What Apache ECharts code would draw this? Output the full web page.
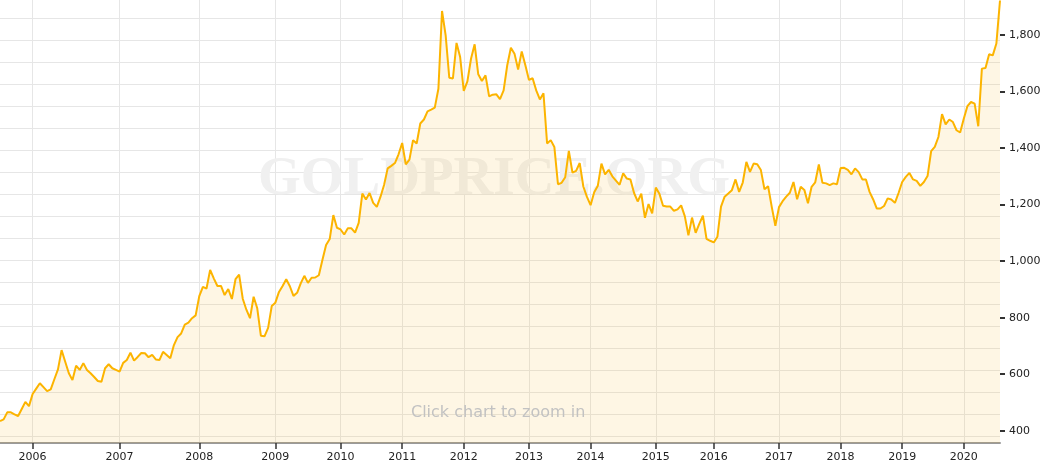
<!DOCTYPE html>
<html>
<head>
<meta charset="utf-8">
<script src="https://cdn.jsdelivr.net/npm/echarts@6/dist/echarts.min.js"></script>
<style>
html,body{margin:0;padding:0;background:#fff;}
#chart{width:1064px;height:472px;}
</style>
</head>
<body>
<div id="chart"></div>
<script>
const prices2005_2007 = [434,440,465,465,458,452,477,502,487,530,549,568,554,540,546,582,617,685,644,603,579,630,615,639,615,603,590,576,573,621,635,621,615,609,640,650,676,648,661,675,674,660,668,652,650,679,668,656,703,731,744,775,782,798,808];
const prices2008_2009 = [876,909,903,969,939,912,912,880,901,866,936,952,867,828,798,874,833,736,734,764,841,853,891,912,936,911,877,888,921,948,923,941,942,950,1005,1057,1078,1163,1118];
const prices2010_2011 = [1112,1094,1116,1116,1101,1135,1239,1218,1241,1206,1192,1227,1269,1328,1337,1347,1378,1418,1342,1359,1428,1416,1487,1501,1530,1536,1543,1610,1885,1799,1649,1646,1772,1722];
const prices2012_2013 = [1602,1636,1716,1767,1661,1637,1657,1583,1589,1590,1573,1604,1693,1755,1734,1678,1742,1693,1641,1647,1604,1572,1594,1416,1428,1404,1272,1277,1297,1390,1313,1319,1347,1264,1227];
const prices2014_2015 = [1198,1244,1267,1345,1307,1323,1300,1285,1270,1311,1292,1289,1241,1211,1239,1153,1202,1169,1260,1238,1196,1193,1193,1178,1183,1197,1159,1091,1154,1100,1132,1161,1079,1072];
const prices2016_2017 = [1066,1086,1193,1228,1239,1251,1289,1245,1278,1351,1316,1345,1343,1322,1254,1265,1192,1125,1191,1212,1228,1242,1280,1219,1263,1252,1205,1263,1279,1342,1277,1275,1269,1275,1272];
const prices2018_2020 = [1329,1330,1323,1307,1328,1315,1289,1289,1245,1218,1186,1186,1195,1222,1218,1206,1241,1280,1298,1312,1289,1284,1266,1280,1301,1389,1404,1439,1520,1484,1501,1492,1463,1455,1504,1548,1563,1557,1477,1681,1683,1732,1728,1770,1922];

const yearLabels = ['2006','2007','2008','2009','2010','2011','2012','2013','2014','2015','2016','2017','2018','2019','2020'];
const yearStarts = [9,33,55,76,94,111,128,146,163,181,197,215,232,249,266];
const priceTicks = [400,600,800,1000,1200,1400,1600,1800];
const gridRows = [0,1,2,3,4,5,6,7,8,9,10,11,12,13,14,15,16,17,18,19];

const prices = [].concat(prices2005_2007, prices2008_2009, prices2010_2011, prices2012_2013, prices2014_2015, prices2016_2017, prices2018_2020);
const categories = prices.map((_, i) => String(i));
const isYear = (i) => yearStarts.indexOf(i) >= 0;

const chart = echarts.init(document.getElementById('chart'), null, {renderer: 'canvas'});
chart.setOption({
  animation: false,
  backgroundColor: '#ffffff',
  grid: [
    {left: 0, right: 64, top: 0, bottom: 29},
    {left: 0, right: 64, top: 18, bottom: 36}
  ],
  xAxis: [
    {
      type: 'category', gridIndex: 0, data: categories, boundaryGap: false,
      axisLine: {show: true, lineStyle: {color: '#9a9a9a', width: 2}},
      axisTick: {show: true, interval: (i) => isYear(i), length: 6, lineStyle: {color: '#333', width: 1.5}},
      axisLabel: {
        show: true, interval: (i) => isYear(i), margin: 9,
        color: '#222', fontSize: 11, fontFamily: 'DejaVu Sans',
        formatter: (v) => { const k = yearStarts.indexOf(parseInt(v, 10)); return k >= 0 ? yearLabels[k] : ''; }
      },
      splitLine: {show: true, interval: (i) => isYear(i), lineStyle: {color: '#e6e6e6', width: 1}}
    },
    {type: 'value', gridIndex: 1, show: false, min: 0, max: 1}
  ],
  yAxis: [
    {
      type: 'value', gridIndex: 0, position: 'right', min: 356.5, max: 1923.8,
      axisLine: {show: false},
      axisTick: {show: true, customValues: priceTicks, length: 5, lineStyle: {color: '#333', width: 2}},
      axisLabel: {
        show: true, customValues: priceTicks, margin: 9, color: '#222', fontSize: 11, fontFamily: 'DejaVu Sans',
        formatter: (v) => Number(v).toLocaleString('en-US')
      },
      splitLine: {show: false}
    },
    {
      type: 'value', gridIndex: 1, min: gridRows[0], max: gridRows[gridRows.length - 1], interval: 1,
      axisLine: {show: false}, axisTick: {show: false}, axisLabel: {show: false},
      splitLine: {show: true, lineStyle: {color: '#e6e6e6', width: 1}}
    }
  ],
  graphic: [
    {
      type: 'text', left: 258, top: 152, z: 1, silent: true,
      style: {text: 'GOLDPRICE.ORG', fill: '#f0f0f0', font: 'bold 55px "Liberation Serif", serif'}
    },
    {
      type: 'text', left: 411, top: 405, z: 10, silent: true,
      style: {text: 'Click chart to zoom in', fill: '#c2c2c2', font: '16px "DejaVu Sans", sans-serif'}
    }
  ],
  series: [{
    type: 'line', xAxisIndex: 0, yAxisIndex: 0, data: prices,
    symbol: 'none', smooth: false,
    lineStyle: {color: '#fcb400', width: 2},
    areaStyle: {color: 'rgba(245,180,40,0.18)'},
    z: 3
  }]
});
</script>
</body>
</html>
